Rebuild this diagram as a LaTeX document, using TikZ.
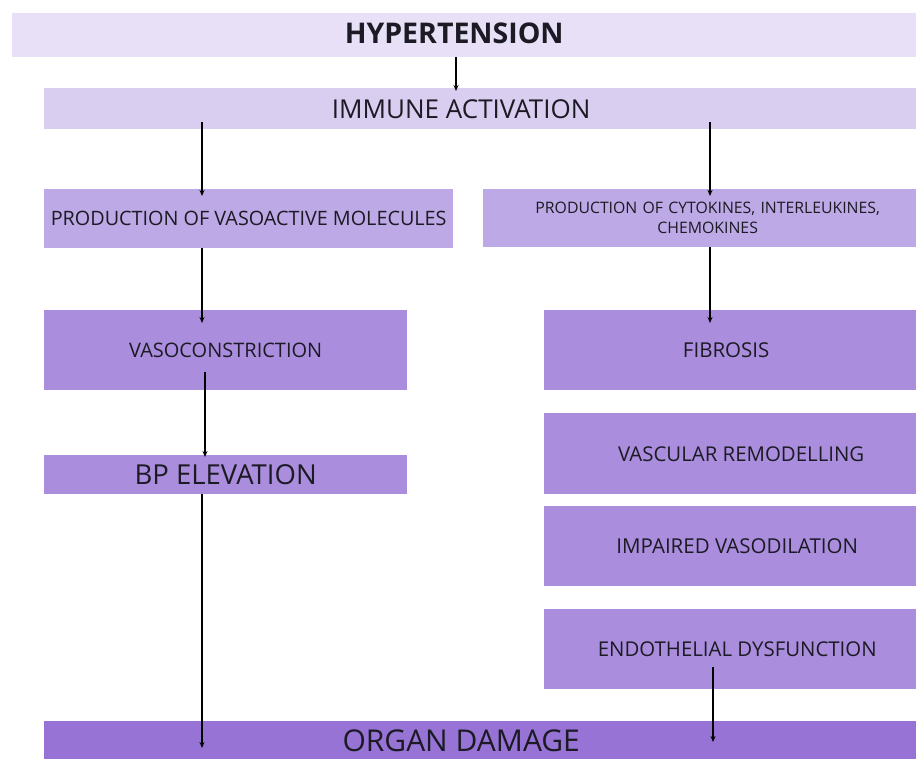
\documentclass[tikz,border=0pt]{standalone}
\usepackage{fontspec}
\setmainfont{Open Sans}
\usetikzlibrary{arrows.meta,positioning}

\definecolor{tierone}{HTML}{E7E0F6}
\definecolor{tiertwo}{HTML}{D9CDF0}
\definecolor{tierthree}{HTML}{BCA9E5}
\definecolor{tierfour}{HTML}{AA8EDD}
\definecolor{tierfive}{HTML}{9673D5}
\definecolor{inktext}{HTML}{1C1A24}

\begin{document}
\begin{tikzpicture}[
  x=1pt, y=-1pt,
  box/.style={rectangle, anchor=north west, inner sep=0pt, align=center, text=inktext},
  line/.style={-{Stealth[length=6pt,width=5pt]}, line width=1.3pt, black}
]
\useasboundingbox (0,0) rectangle (916,758);

% bands across the page
\node[box, fill=tierone, minimum width=904pt, minimum height=44pt, font=\fontsize{28.5}{32}\selectfont\bfseries] (hyp) at (12,13) {\raisebox{4pt}{HYPERTENSION}\hspace*{20pt}};
\node[box, fill=tiertwo, minimum width=872pt, minimum height=41pt, font=\fontsize{26}{30}\selectfont] (immune) at (44,88) {IMMUNE ACTIVATION\hspace*{38pt}};

% left column
\node[box, fill=tierthree, minimum width=409pt, minimum height=59pt, font=\fontsize{19.8}{23}\selectfont] (vasoactive) at (44,189) {PRODUCTION OF VASOACTIVE MOLECULES};
\node[box, fill=tierfour, minimum width=363pt, minimum height=80pt, font=\fontsize{20}{23}\selectfont] (constrict) at (44,310) {VASOCONSTRICTION};
\node[box, fill=tierfour, minimum width=363pt, minimum height=39pt, font=\fontsize{27.5}{31}\selectfont] (bp) at (44,455) {BP ELEVATION};

% right column
\node[box, fill=tierthree, minimum width=433pt, minimum height=58pt, text width=420pt, font=\fontsize{15.8}{20}\selectfont] (cyto) at (483,189) {\hspace*{16pt}PRODUCTION OF CYTOKINES, INTERLEUKINES,\\\hspace*{16pt}CHEMOKINES};
\node[box, fill=tierfour, minimum width=372pt, minimum height=80pt, font=\fontsize{20.5}{24}\selectfont] (fibro) at (544,310) {FIBROSIS\hspace*{8pt}};
\node[box, fill=tierfour, minimum width=372pt, minimum height=81pt, font=\fontsize{20.4}{24}\selectfont] (remodel) at (544,413) {\hspace*{22pt}VASCULAR REMODELLING};
\node[box, fill=tierfour, minimum width=372pt, minimum height=80pt, font=\fontsize{20.5}{24}\selectfont] (dilat) at (544,506) {\hspace*{14pt}IMPAIRED VASODILATION};
\node[box, fill=tierfour, minimum width=372pt, minimum height=80pt, font=\fontsize{20.4}{24}\selectfont] (endo) at (544,609) {\hspace*{14pt}ENDOTHELIAL DYSFUNCTION};

% bottom band
\node[box, fill=tierfive, minimum width=872pt, minimum height=45pt, font=\fontsize{30}{34}\selectfont] (organ) at (44,721) {\raisebox{6pt}{ORGAN DAMAGE}\hspace*{38pt}};

\coordinate (mid) at (456,0);
\coordinate (lcol) at (202,0);
\coordinate (rcol) at (710,0);

\draw[line] (hyp.south -| mid) -- ([yshift=-3pt]immune.north -| mid);
\draw[line] ([yshift=7pt]immune.south -| lcol) -- ([yshift=-7pt]vasoactive.north -| lcol);
\draw[line] ([yshift=7pt]immune.south -| rcol) -- ([yshift=-7pt]cyto.north -| rcol);
\draw[line] (vasoactive.south -| lcol) -- ([yshift=-13pt]constrict.north -| lcol);
\draw[line] (cyto.south -| rcol) -- ([yshift=-13pt]fibro.north -| rcol);
\draw[line] ([yshift=18pt]constrict.south -| 205,0) -- ([yshift=-2pt]bp.north -| 205,0);
\draw[line] (bp.south -| lcol) -- ([yshift=-27pt]organ.north -| lcol);
\draw[line] ([yshift=22pt]endo.south -| 713,0) -- ([yshift=-21pt]organ.north -| 713,0);
\end{tikzpicture}
\end{document}
